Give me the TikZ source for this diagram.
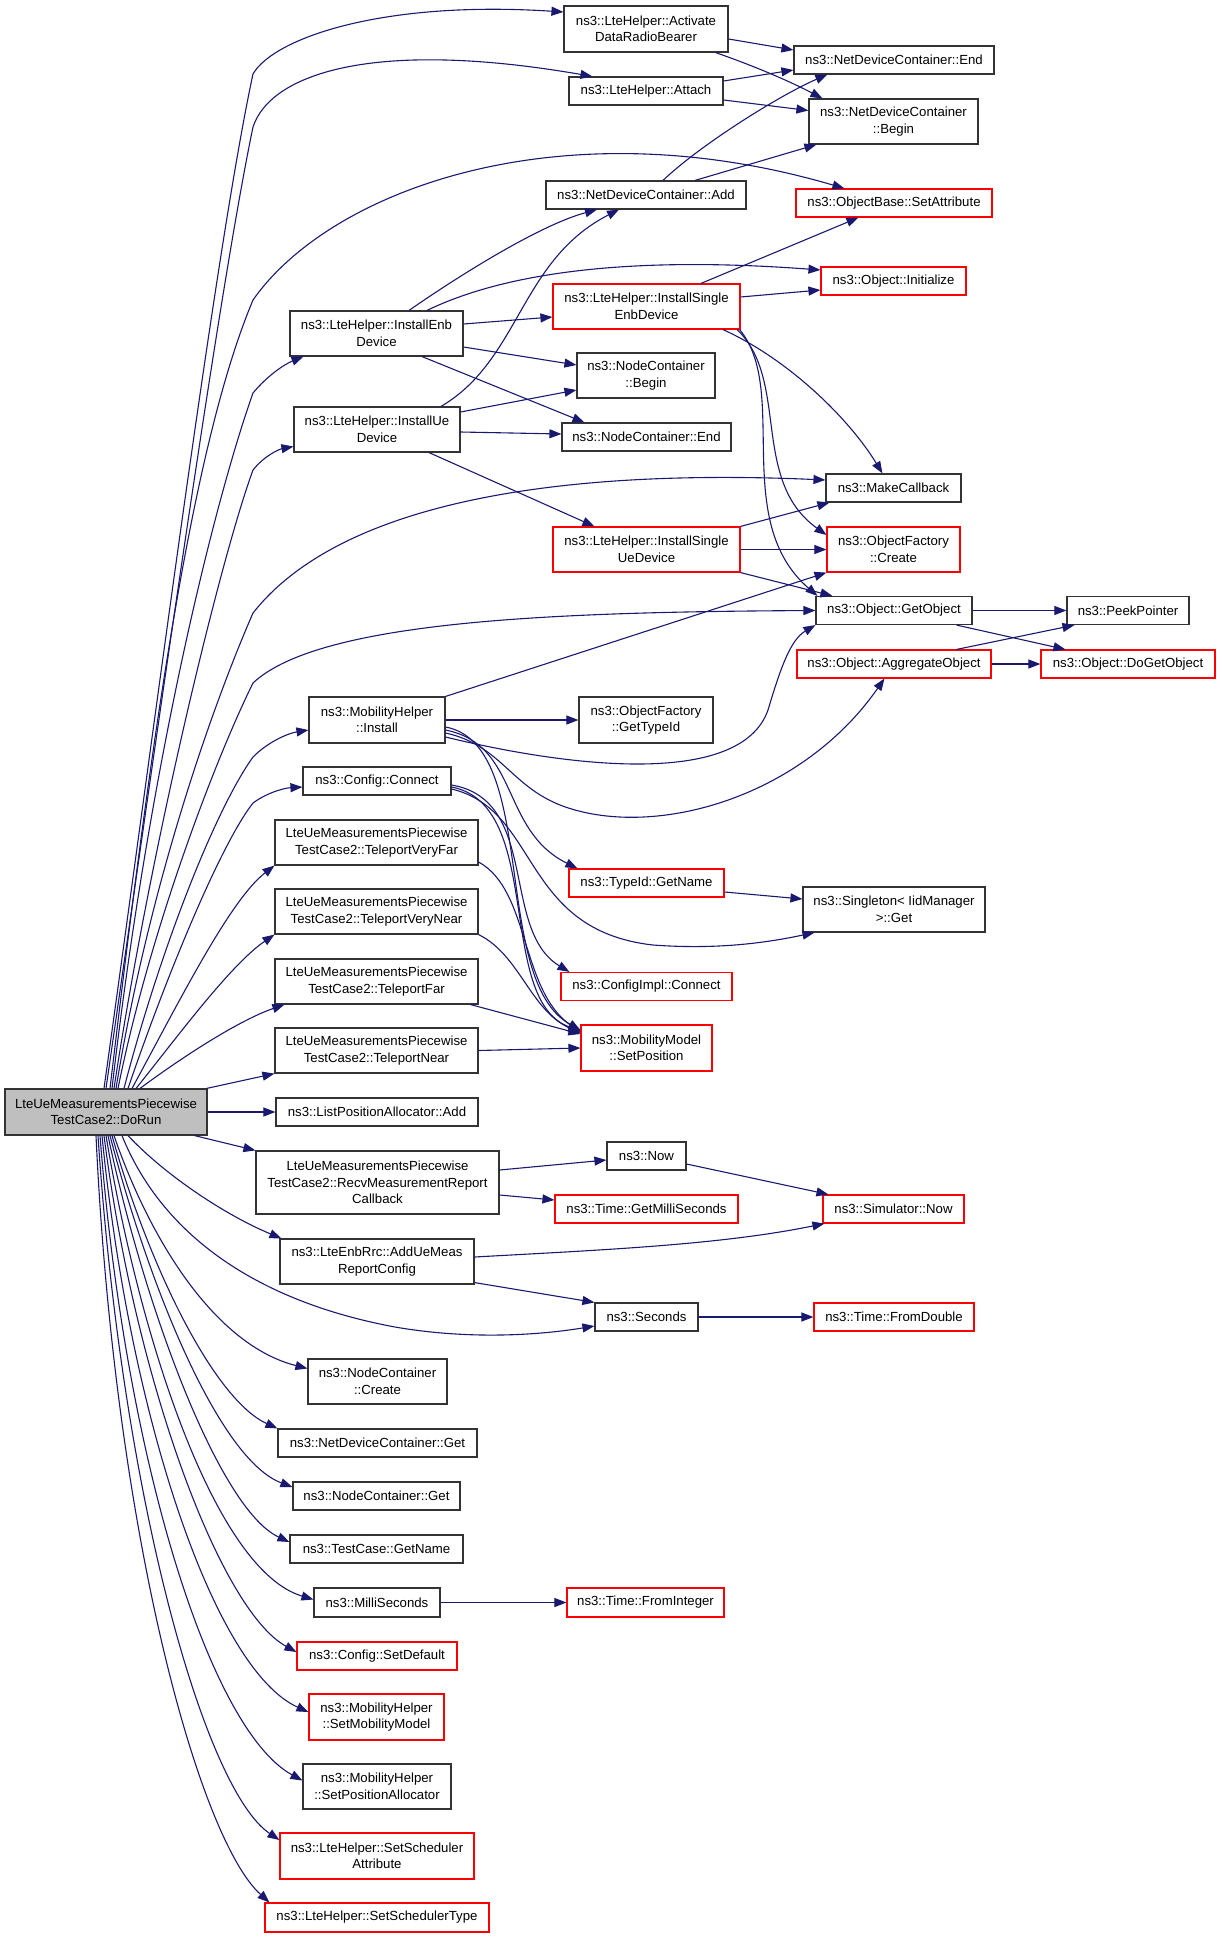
\documentclass[tikz,border=0pt]{standalone}
\usepackage{fontspec}
\setmainfont{Liberation Sans}
\usetikzlibrary{arrows.meta,calc}
\definecolor{edgeblue}{HTML}{191970}
\definecolor{boxgray}{HTML}{BFBFBF}
\definecolor{boxred}{HTML}{FF0000}
\begin{document}
\begin{tikzpicture}[x=1pt,y=-1pt,
  box/.style={draw=black!80, line width=1.15pt, fill=white, inner sep=0pt, align=center,
    font=\fontsize{13.2}{16.5}\selectfont},
  redbox/.style={box, draw=boxred},
  e/.style={draw=edgeblue, line width=1.1pt, -{Triangle[length=12pt,width=9pt]}}]
\useasboundingbox (0,0) rectangle (1221,1937);
% ---------- nodes ----------
\node[box, fill=boxgray, minimum width=202pt, minimum height=46pt] (dorun) at (106,1112) {LteUeMeasurementsPiecewise\\TestCase2::DoRun};
\node[box, minimum width=164pt, minimum height=46pt] (adrb) at (646,29) {ns3::LteHelper::Activate\\DataRadioBearer};
\node[box, minimum width=154pt, minimum height=28pt] (attach) at (646,91) {ns3::LteHelper::Attach};
\node[box, minimum width=200pt, minimum height=28pt] (ndcend) at (894,60) {ns3::NetDeviceContainer::End};
\node[box, minimum width=169pt, minimum height=45pt] (ndcbegin) at (893.5,121.5) {ns3::NetDeviceContainer\\::Begin};
\node[box, minimum width=200pt, minimum height=28pt] (ndcadd) at (646,195) {ns3::NetDeviceContainer::Add};
\node[redbox, minimum width=196pt, minimum height=28pt] (setattr) at (894,203) {ns3::ObjectBase::SetAttribute};
\node[redbox, minimum width=145pt, minimum height=28pt] (init) at (893.5,281) {ns3::Object::Initialize};
\node[redbox, minimum width=187pt, minimum height=45pt] (isenb) at (646.5,306.5) {ns3::LteHelper::InstallSingle\\EnbDevice};
\node[box, minimum width=173pt, minimum height=45pt] (ienb) at (376.5,333.5) {ns3::LteHelper::InstallEnb\\Device};
\node[box, minimum width=138pt, minimum height=45pt] (ncbegin) at (646,375.5) {ns3::NodeContainer\\::Begin};
\node[box, minimum width=166pt, minimum height=45pt] (iue) at (377,429.5) {ns3::LteHelper::InstallUe\\Device};
\node[box, minimum width=169pt, minimum height=28pt] (ncend) at (646.5,437) {ns3::NodeContainer::End};
\node[box, minimum width=135pt, minimum height=28pt] (makecb) at (893.5,488) {ns3::MakeCallback};
\node[redbox, minimum width=187pt, minimum height=45pt] (isue) at (646.5,549.5) {ns3::LteHelper::InstallSingle\\UeDevice};
\node[redbox, minimum width=133pt, minimum height=45pt] (ofcreate) at (893.5,549.5) {ns3::ObjectFactory\\::Create};
\node[box, minimum width=156pt, minimum height=28pt] (getobj) at (894,610.5) {ns3::Object::GetObject};
\node[box, minimum width=122pt, minimum height=28pt] (peek) at (1128,610.5) {ns3::PeekPointer};
\node[redbox, minimum width=194pt, minimum height=28pt] (aggr) at (894,664) {ns3::Object::AggregateObject};
\node[redbox, minimum width=174pt, minimum height=28pt] (dogetobj) at (1128,664) {ns3::Object::DoGetObject};
\node[box, minimum width=136pt, minimum height=46pt] (mhinstall) at (377,720) {ns3::MobilityHelper\\::Install};
\node[box, minimum width=134pt, minimum height=46pt] (gettypeid) at (646,720) {ns3::ObjectFactory\\::GetTypeId};
\node[box, minimum width=148pt, minimum height=28pt] (cfgconnect) at (377,781) {ns3::Config::Connect};
\node[box, minimum width=203pt, minimum height=45pt] (tpvfar) at (376.5,842.5) {LteUeMeasurementsPiecewise\\TestCase2::TeleportVeryFar};
\node[redbox, minimum width=155pt, minimum height=28pt] (getname) at (646.5,883) {ns3::TypeId::GetName};
\node[box, minimum width=182pt, minimum height=45pt] (singleton) at (894,909.5) {ns3::Singleton< IidManager\\>::Get};
\node[box, minimum width=203pt, minimum height=45pt] (tpvnear) at (376.5,911.5) {LteUeMeasurementsPiecewise\\TestCase2::TeleportVeryNear};
\node[box, minimum width=203pt, minimum height=45pt] (tpfar) at (376.5,981.5) {LteUeMeasurementsPiecewise\\TestCase2::TeleportFar};
\node[redbox, minimum width=171pt, minimum height=28pt] (cfgimpl) at (646.5,986.5) {ns3::ConfigImpl::Connect};
\node[redbox, minimum width=131pt, minimum height=46pt] (setpos) at (646.5,1048) {ns3::MobilityModel\\::SetPosition};
\node[box, minimum width=203pt, minimum height=45pt] (tpnear) at (376.5,1050.5) {LteUeMeasurementsPiecewise\\TestCase2::TeleportNear};
\node[box, minimum width=202pt, minimum height=28pt] (lpaadd) at (377,1112) {ns3::ListPositionAllocator::Add};
\node[box, minimum width=79pt, minimum height=28pt] (now) at (646.5,1156) {ns3::Now};
\node[box, minimum width=243pt, minimum height=63pt] (recv) at (377.5,1182.5) {LteUeMeasurementsPiecewise\\TestCase2::RecvMeasurementReport\\Callback};
\node[redbox, minimum width=183pt, minimum height=28pt] (getms) at (646.5,1209) {ns3::Time::GetMilliSeconds};
\node[redbox, minimum width=141pt, minimum height=28pt] (simnow) at (893.5,1209) {ns3::Simulator::Now};
\node[box, minimum width=194pt, minimum height=45pt] (addue) at (377,1261.5) {ns3::LteEnbRrc::AddUeMeas\\ReportConfig};
\node[box, minimum width=103pt, minimum height=28pt] (seconds) at (646.5,1317) {ns3::Seconds};
\node[redbox, minimum width=160pt, minimum height=28pt] (fromdouble) at (894,1317) {ns3::Time::FromDouble};
\node[box, minimum width=139pt, minimum height=45pt] (nccreate) at (377.5,1381.5) {ns3::NodeContainer\\::Create};
\node[box, minimum width=199pt, minimum height=28pt] (ndcget) at (377.5,1443) {ns3::NetDeviceContainer::Get};
\node[box, minimum width=167pt, minimum height=28pt] (ncget) at (376.5,1496) {ns3::NodeContainer::Get};
\node[box, minimum width=173pt, minimum height=28pt] (tcgetname) at (376.5,1549) {ns3::TestCase::GetName};
\node[box, minimum width=126pt, minimum height=29pt] (millis) at (377,1602.5) {ns3::MilliSeconds};
\node[redbox, minimum width=157pt, minimum height=29pt] (fromint) at (645.5,1602.5) {ns3::Time::FromInteger};
\node[redbox, minimum width=160pt, minimum height=28pt] (setdefault) at (377,1656) {ns3::Config::SetDefault};
\node[redbox, minimum width=135pt, minimum height=46pt] (setmob) at (376.5,1717) {ns3::MobilityHelper\\::SetMobilityModel};
\node[box, minimum width=148pt, minimum height=45pt] (setposalloc) at (377,1786.5) {ns3::MobilityHelper\\::SetPositionAllocator};
\node[redbox, minimum width=194pt, minimum height=46pt] (setschedattr) at (377,1856) {ns3::LteHelper::SetScheduler\\Attribute};
\node[redbox, minimum width=224pt, minimum height=29pt] (setschedtype) at (377,1917.5) {ns3::LteHelper::SetSchedulerType};
% ---------- edges from DoRun (upwards) ----------
\draw[e] ($(dorun.north)+(-2,0)$) .. controls (150,760) and (215,250) .. (253,74) .. controls (273,39) and (380,0) .. ($(adrb.west)+(0,-17)$);
\draw[e] (dorun.north) .. controls (152,770) and (217,300) .. (253,127) .. controls (270,75) and (370,38) .. ($(attach.north west)+(24,0)$);
\draw[e] ($(dorun.north)+(4,0)$) .. controls (150,750) and (190,450) .. (253,300) .. controls (330,190) and (560,105) .. ($(setattr.north west)+(49,0)$);
\draw[e] ($(dorun.north)+(6,0)$) .. controls (150,760) and (215,500) .. (253,393) .. controls (268,375) and (285,364) .. ($(ienb.south west)+(14,0)$);
\draw[e] ($(dorun.north)+(8,0)$) .. controls (150,850) and (220,560) .. (253,470) .. controls (265,455) and (280,449) .. ($(iue.west)+(0,17)$);
\draw[e] ($(dorun.north)+(10,0)$) .. controls (150,880) and (215,700) .. (253,613) .. controls (350,490) and (600,470) .. ($(makecb.west)+(0,-8)$);
\draw[e] ($(dorun.north)+(12,0)$) .. controls (150,930) and (215,760) .. (253,683) .. controls (320,620) and (560,612) .. (getobj.west);
\draw[e] ($(dorun.north)+(18,0)$) .. controls (160,950) and (215,810) .. (253,757) .. controls (270,740) and (290,733) .. ($(mhinstall.west)+(0,10)$);
\draw[e] ($(dorun.north)+(22,0)$) .. controls (165,980) and (220,845) .. (253,803) .. controls (268,792) and (285,788) .. ($(cfgconnect.west)+(0,6)$);
\draw[e] ($(dorun.north)+(26,0)$) .. controls (180,1000) and (230,900) .. (tpvfar.south west);
\draw[e] ($(dorun.north)+(30,0)$) .. controls (175,1040) and (230,965) .. (tpvnear.south west);
\draw[e] ($(dorun.north)+(34,0)$) .. controls (185,1055) and (240,1020) .. ($(tpfar.south west)+(10,0)$);
\draw[e] ($(dorun.north east)+(-1,0)$) -- (tpnear.south west);
\draw[e] (dorun.east) -- (lpaadd.west);
% ---------- edges from DoRun (downwards) ----------
\draw[e] ($(dorun.south east)+(-13,0)$) -- (recv.north west);
\draw[e] ($(dorun.south)+(22,0)$) .. controls (165,1175) and (225,1215) .. ($(addue.north west)+(2,0)$);
\draw[e] ($(dorun.south)+(16,0)$) .. controls (160,1230) and (250,1300) .. (395,1327) .. controls (470,1340) and (540,1335) .. ($(seconds.west)+(0,9)$);
\draw[e] ($(dorun.south)+(8,0)$) .. controls (150,1240) and (215,1345) .. ($(nccreate.west)+(0,-13)$);
\draw[e] ($(dorun.south)+(6,0)$) .. controls (150,1270) and (215,1400) .. (ndcget.north west);
\draw[e] ($(dorun.south)+(4,0)$) .. controls (150,1290) and (220,1460) .. ($(ncget.west)+(0,-9)$);
\draw[e] ($(dorun.south)+(2,0)$) .. controls (145,1310) and (220,1510) .. ($(tcgetname.west)+(0,-7)$);
\draw[e] (dorun.south) .. controls (140,1340) and (215,1570) .. ($(millis.west)+(0,-3)$);
\draw[e] ($(dorun.south)+(-2,0)$) .. controls (135,1380) and (220,1610) .. ($(setdefault.west)+(0,-4)$);
\draw[e] ($(dorun.south)+(-4,0)$) .. controls (130,1420) and (215,1670) .. ($(setmob.west)+(0,-5)$);
\draw[e] ($(dorun.south)+(-6,0)$) .. controls (125,1460) and (210,1730) .. ($(setposalloc.west)+(0,-6)$);
\draw[e] ($(dorun.south)+(-8,0)$) .. controls (122,1500) and (205,1790) .. ($(setschedattr.west)+(0,-16)$);
\draw[e] ($(dorun.south)+(-10,0)$) .. controls (115,1540) and (200,1840) .. ($(setschedtype.north west)+(5,0)$);
% ---------- other edges ----------
\draw[e] ($(adrb.east)+(0,10)$) -- ($(ndcend.west)+(0,-10)$);
\draw[e] ($(adrb.south east)+(-13,0)$) .. controls (760,68) and (795,84) .. ($(ndcbegin.north west)+(14,0)$);
\draw[e] ($(attach.east)+(0,-10)$) -- ($(ndcend.west)+(0,10)$);
\draw[e] ($(attach.east)+(0,9)$) -- ($(ndcbegin.west)+(0,-11)$);
\draw[e] ($(ndcadd.north)+(17,0)$) .. controls (700,145) and (780,95) .. ($(ndcend.south west)+(34,0)$);
\draw[e] ($(ndcadd.north)+(49,0)$) -- ($(ndcbegin.south west)+(8,0)$);
\draw[e] ($(ienb.north)+(32.5,0)$) .. controls (460,275) and (540,225) .. ($(ndcadd.south)+(-49,0)$);
\draw[e] ($(ienb.north)+(50.5,0)$) .. controls (500,275) and (620,255) .. ($(init.west)+(0,-11)$);
\draw[e] ($(ienb.east)+(0,-9.5)$) -- ($(isenb.west)+(0,10.5)$);
\draw[e] ($(ienb.east)+(0,13.5)$) -- ($(ncbegin.west)+(0,-10.5)$);
\draw[e] ($(ienb.south)+(45.5,0)$) -- ($(ncend.north west)+(23,0)$);
\draw[e] ($(iue.north)+(64,0)$) .. controls (520,360) and (520,260) .. ($(ndcadd.south)+(-27,0)$);
\draw[e] ($(iue.east)+(0,-17.5)$) -- ($(ncbegin.west)+(0,14.5)$);
\draw[e] ($(iue.east)+(0,2.5)$) -- ($(ncend.west)+(0,-3)$);
\draw[e] ($(iue.south)+(52,0)$) -- ($(isue.north west)+(42,0)$);
\draw[e] ($(isenb.north)+(54.5,0)$) -- ($(setattr.south west)+(63,0)$);
\draw[e] ($(isenb.east)+(0,-9.5)$) -- ($(init.west)+(0,9)$);
\draw[e] ($(isenb.south)+(76.5,0)$) .. controls (790,360) and (850,420) .. ($(makecb.north west)+(57,0)$);
\draw[e] ($(isenb.south)+(90.5,0)$) .. controls (790,380) and (750,480) .. ($(ofcreate.west)+(0,-14.5)$);
\draw[e] ($(isenb.south east)+(-1,0)$) .. controls (790,390) and (730,520) .. ($(getobj.north west)+(2,0)$);
\draw[e] (isue.north east) -- ($(makecb.south west)+(4,0)$);
\draw[e] (isue.east) -- (ofcreate.west);
\draw[e] (isue.south east) -- ($(getobj.north west)+(17,0)$);
\draw[e] (getobj.east) -- (peek.west);
\draw[e] ($(getobj.south east)+(-16,0)$) -- ($(dogetobj.north west)+(25,0)$);
\draw[e] ($(aggr.north east)+(-35,0)$) -- ($(peek.south west)+(8,0)$);
\draw[e] (aggr.east) -- (dogetobj.west);
\draw[e] (mhinstall.north east) -- (ofcreate.south west);
\draw[e] (mhinstall.east) -- (gettypeid.west);
\draw[e] ($(mhinstall.east)+(0,17)$) .. controls (560,765) and (740,790) .. (768,710) .. controls (780,670) and (790,640) .. (getobj.south west);
\draw[e] ($(mhinstall.east)+(0,13)$) .. controls (500,745) and (510,785) .. (560,805) .. controls (650,840) and (800,800) .. ($(aggr.south west)+(88,0)$);
\draw[e] ($(mhinstall.east)+(0,10)$) .. controls (520,745) and (500,830) .. ($(getname.north west)+(9,0)$);
\draw[e] ($(mhinstall.east)+(0,7)$) .. controls (540,745) and (490,980) .. ($(setpos.west)+(0,-18)$);
\draw[e] ($(cfgconnect.east)+(0,4)$) .. controls (540,800) and (500,930) .. ($(cfgimpl.north west)+(9,0)$);
\draw[e] ($(cfgconnect.east)+(0,6)$) .. controls (545,805) and (495,1000) .. ($(setpos.west)+(0,-17)$);
\draw[e] ($(cfgconnect.east)+(0,8)$) .. controls (540,810) and (520,930) .. (653,945) .. controls (720,950) and (770,942) .. ($(singleton.south west)+(12,0)$);
\draw[e] ($(tpvfar.east)+(0,19.5)$) .. controls (530,890) and (520,990) .. ($(setpos.west)+(0,-16)$);
\draw[e] (tpvnear.south east) .. controls (520,955) and (530,1010) .. ($(setpos.west)+(0,-15)$);
\draw[e] ($(tpfar.south east)+(-8,0)$) -- ($(setpos.west)+(0,-14)$);
\draw[e] (tpnear.east) -- (setpos.west);
\draw[e] ($(getname.east)+(0,9)$) -- ($(singleton.west)+(0,-10.5)$);
\draw[e] ($(recv.east)+(0,-12.5)$) -- ($(now.west)+(0,4)$);
\draw[e] ($(recv.east)+(0,12.5)$) -- ($(getms.west)+(0,-9)$);
\draw[e] ($(now.east)+(0,8)$) -- ($(simnow.north west)+(6,0)$);
\draw[e] ($(addue.east)+(0,-4.5)$) .. controls (600,1250) and (720,1245) .. ($(simnow.south west)+(2,0)$);
\draw[e] ($(addue.south east)+(0,-2)$) -- (seconds.north west);
\draw[e] (seconds.east) -- (fromdouble.west);
\draw[e] (millis.east) -- (fromint.west);
\end{tikzpicture}
\end{document}
